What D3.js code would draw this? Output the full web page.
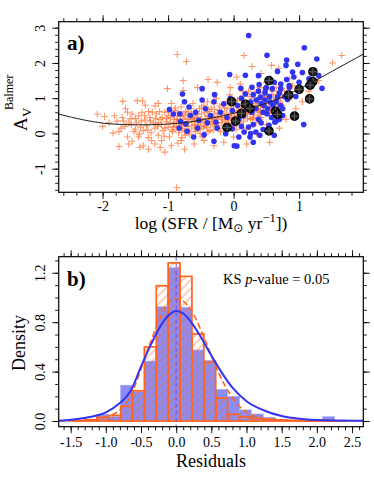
<!DOCTYPE html>
<html>
<head>
<meta charset="utf-8">
<script src="https://cdn.jsdelivr.net/npm/d3@7"></script>
<style>
  body { margin: 0; background: #fff; }
  text { font-family: "Liberation Serif", "DejaVu Serif", serif; fill: #000; }
</style>
</head>
<body>
<svg id="chart" width="374" height="481"></svg>
<script>
// ---- panel a) : A_V(Balmer) vs log SFR ----
var orangePts = [
  [-0.86,2.24],[-0.72,2.04],[-0.87,-1.54],[0.16,2.21],[1.65,2.21],[1.51,2.0],[0.58,1.93],[0.28,1.9],[0.69,1.85],
  [-0.77,1.5],[-0.39,1.53],[-0.77,1.22],[-1.01,1.27],[-1.69,0.91],[-1.47,0.93],[-1.39,0.92],[-2.08,0.55],[-1.97,0.48],
  [-1.84,0.01],[-1.75,-0.37],[-1.43,-0.39],[-1.05,-0.53],[-0.25,1.45],[0.05,1.6],[0.42,1.7],[0.85,1.55],[-0.55,1.3],
  [-1.2,0.78],[-1.3,0.62],[-1.55,0.55],[-1.65,0.7],[-1.6,0.3],[-1.72,0.15],[-1.5,0.12],[-1.62,-0.1],[-1.55,-0.22],
  [-1.38,-0.35],[-1.3,-0.12],[-1.2,-0.3],[-1.1,-0.2],[-0.95,-0.35],[-0.85,-0.28],[-0.75,-0.45],[-0.6,-0.3],[-0.45,-0.2],
  [-0.3,-0.35],[-0.15,-0.25],[0.0,-0.1],[0.2,-0.3],[0.35,0.0],[0.55,-0.25],[0.7,0.15],[0.8,0.4],[0.95,0.7],[1.05,0.9],
  [1.15,1.2],[1.3,1.5],[0.9,1.1],
  [-1.78,0.35],[-1.7,0.45],[-1.66,0.2],[-1.58,0.42],[-1.52,0.05],[-1.48,0.3],[-1.45,0.5],[-1.42,0.18],[-1.38,0.08],
  [-1.35,0.38],[-1.33,0.22],[-1.28,0.45],[-1.26,0.02],[-1.22,0.3],[-1.2,0.15],[-1.18,0.55],[-1.15,-0.05],[-1.12,0.4],
  [-1.1,0.25],[-1.08,0.08],[-1.05,0.6],[-1.03,0.33],[-1.0,0.18],[-0.98,-0.1],[-0.96,0.45],[-0.94,0.1],[-0.92,0.28],
  [-1.4,0.6],[-1.62,0.6],[-1.25,-0.2],[-1.45,-0.1],[-1.12,-0.4],[-0.9,0.65],
  [-0.88,0.2],[-0.86,0.5],[-0.84,0.02],[-0.82,0.35],[-0.8,0.75],[-0.78,0.15],[-0.76,0.42],[-0.74,-0.05],[-0.72,0.28],
  [-0.7,0.6],[-0.68,0.1],[-0.66,0.48],[-0.64,0.22],[-0.62,0.85],[-0.6,0.35],[-0.58,0.05],[-0.56,0.55],[-0.54,0.25],
  [-0.52,0.7],[-0.5,0.4],[-0.48,-0.1],[-0.46,0.15],[-0.44,0.6],[-0.42,0.3],[-0.4,0.9],[-0.38,0.48],[-0.36,0.08],
  [-0.34,0.72],[-0.32,0.35],[-0.3,0.55],[-0.28,0.2],[-0.26,1.0],[-0.24,0.45],[-0.22,0.65],[-0.2,0.05],[-0.18,0.3],
  [-0.16,0.82],[-0.14,0.5],[-0.12,0.18],[-0.1,0.7],[-0.08,0.38],[-0.06,1.1],[-0.04,0.58],[-0.02,0.25],[0.0,0.8],
  [0.02,0.45],[0.04,0.12],[0.06,0.95],[0.08,0.62],[0.1,0.3],[0.12,0.75],[0.14,1.2],[0.16,0.5],[0.18,0.88],[0.2,0.15],
  [0.22,0.65],[0.24,1.05],[0.26,0.4],[0.28,0.78],[0.3,0.55],[0.32,1.15],[0.34,0.3],[0.36,0.92],[0.38,0.68],[0.4,1.3],
  [0.42,0.45],[0.44,0.85],[0.46,1.05],[0.48,0.6],[0.5,0.25],[0.52,0.95],[0.55,0.72],[0.58,1.1],[0.6,0.5],[0.62,0.85],
  [0.65,1.3],[0.68,0.65],[0.72,1.0],[0.75,0.8],[0.78,1.2],[0.85,0.95],[0.9,1.35],
  [-0.85,0.6],[-0.8,0.25],[-0.75,0.05],[-0.7,0.4],[-0.65,0.7],[-0.6,0.15],[-0.55,0.45],[-0.5,0.2],[-0.45,0.8],
  [-0.4,0.5],[-0.35,0.25],[-0.3,0.85],[-0.25,0.3],[-0.2,0.55],[-0.15,0.15],[-0.1,0.9],[-0.05,0.45],[0.0,0.2],
  [0.05,0.65],[0.1,1.0],[0.15,0.35],[0.2,0.8],[0.25,0.55],[0.3,1.0],[0.35,0.7],[0.4,0.4],[0.45,1.15],[0.5,0.8],
  [0.55,0.5],[0.6,1.2],[0.65,0.95],[0.7,0.55],
  [-0.9,0.4],[-0.83,0.1],[-0.77,0.55],[-0.71,0.2],[-0.63,0.38],[-0.57,0.62],[-0.51,0.0],[-0.47,0.35],[-0.41,0.18],
  [-0.37,0.62],[-0.31,0.1],[-0.27,0.42],[-0.21,0.78],[-0.17,0.4],[-0.11,0.55],[-0.07,0.22],[-0.01,0.62],[0.03,0.35],
  [0.07,0.78],[0.11,0.5],[0.17,0.68],[0.21,0.42],[0.27,0.92],[0.31,0.68],[0.37,0.5],[0.41,0.78],[0.47,0.95],[0.53,0.62],
  [0.57,0.88],[0.63,0.7],[0.69,0.82],[0.23,1.2],[-0.05,1.3],[0.5,1.45],[0.1,1.4],
  [-1.0,0.5],[-0.97,0.3],[-0.93,0.05],[-0.89,0.72],[-0.87,0.32],[-0.81,0.48],[-0.79,-0.12],[-0.73,0.62],[-0.69,0.32],
  [-0.67,-0.02],[-0.61,0.5],[-0.59,0.25],[-0.53,0.12],[-0.49,0.55],[-0.43,0.42],[-0.39,0.05],[-0.33,0.48],[-0.29,0.68],
  [-0.23,0.22],[-0.19,0.62],[-0.13,0.35],[-0.09,0.08],[-0.03,0.42],[0.01,0.95],[0.05,0.28],[0.09,0.55],[0.13,0.92],
  [0.19,0.55],[0.25,0.7],[0.29,0.42],[0.33,0.85],[0.39,0.6],[0.43,1.0],[0.49,0.72],[0.55,0.9],[0.61,0.65],[0.66,1.1],
  [0.71,0.9],
  [-1.15,0.3],[-1.05,0.15],[-0.99,0.62],[-0.91,0.18],[-0.86,0.4],[-0.79,0.3],[-0.74,0.5],[-0.69,0.05],[-0.64,0.55],
  [-0.59,0.42],[-0.54,0.32],[-0.49,0.75],[-0.44,0.22],[-0.39,0.68],[-0.34,0.4],[-0.29,0.28],[-0.24,0.58],[-0.19,0.45],
  [-0.14,0.72],[-0.09,0.3],[-0.04,0.75],[0.01,0.5],[0.06,0.38],[0.11,0.65],[0.16,0.78],[0.21,0.58],[0.26,0.85],
  [0.31,0.45],[0.36,0.8],[0.41,0.6],[0.46,0.75],[0.51,1.05],[0.56,0.65],[0.61,1.0],[0.67,0.78],[0.73,0.68],
  [-1.9,0.3],[-1.82,0.5],[-1.75,0.05],[-1.68,0.35],[-1.56,0.25],[-1.5,0.42],[-1.44,-0.02],[-1.41,0.35],[-1.36,0.5],
  [-1.31,0.1],[-1.27,0.35],[-1.24,0.6],[-1.19,0.42],[-1.16,0.2],[-1.13,0.62],[-1.09,0.45],[-1.06,-0.08],[-1.02,0.42],
  [-2.0,0.2],[-1.35,0.8],[-1.15,0.85],[-0.95,0.85],[-1.6,-0.3],[-1.3,-0.45],[-0.8,-0.2]
];

var bluePts = [
  [0.23,2.78],[1.08,2.43],[0.51,2.22],[0.81,2.08],[1.27,2.11],[0.98,1.96],[0.80,1.93],[-0.06,1.67],[0.18,1.65],
  [0.38,1.64],[0.67,1.76],[0.90,1.74],[1.05,1.73],[1.30,1.64],[0.92,1.60],[0.81,1.53],[0.85,1.36],[1.13,1.36],
  [1.35,1.28],[-0.78,1.12],[-0.48,1.27],[-0.29,1.10],[0.11,1.28],[0.28,1.31],[0.39,1.39],[0.49,1.27],[0.72,1.27],
  [1.07,0.25],[0.05,-0.36],
  [-0.98,0.68],[-0.82,0.56],[-0.81,0.34],[-0.73,0.27],[-0.66,0.51],[-0.58,0.60],[-0.53,0.37],[-0.43,0.70],[-0.35,0.51],
  [-0.27,0.32],[-0.20,0.60],[-0.15,0.84],[-0.10,0.46],[-0.02,0.65],[0.06,0.79],[0.12,1.00],[0.18,1.12],[0.26,0.89],
  [0.34,0.70],[0.41,1.03],[0.46,0.79],[0.51,0.56],[0.56,0.89],[0.62,0.65],[0.67,1.03],[0.72,0.79],[0.75,0.51],
  [0.82,0.96],[0.87,1.12],[0.59,1.27],
  [-0.83,0.15],[-0.71,0.06],[-0.61,-0.10],[-0.45,-0.04],[-0.30,-0.22],[-0.12,-0.01],[-0.02,0.13],[0.08,-0.10],
  [0.16,0.04],[0.23,0.18],[0.34,0.04],[0.45,0.11],[0.54,0.23],[0.63,0.32],[0.70,0.40],
  [0.3,1.1],[0.35,0.95],[0.42,0.85],[0.48,1.15],[0.52,0.7],[0.55,1.05],[0.6,0.8],[0.65,0.9],[0.7,1.15],[0.75,0.7],
  [0.78,1.05],[0.45,0.6],[0.38,0.4],[0.28,0.6],[0.2,0.75],[0.15,0.5],[0.08,0.4],[0.0,0.3],[-0.08,0.2],[-0.25,0.15],
  [-0.4,0.3],[-0.55,0.15],[-0.68,0.75],[-0.48,0.95],[-0.3,0.9],[-0.05,1.0],[0.12,0.2],[0.3,0.25],[0.42,0.3],
  [0.58,0.45],[0.65,0.35],[0.5,1.3],[0.62,1.45],[0.85,1.3],[0.95,1.05],[1.0,1.45],[1.15,1.55],[0.72,1.4],
  [-0.92,0.55],[-0.75,0.9],[0.55,0.1],[0.4,-0.05],[0.25,-0.1],[0.62,-0.05],[0.3,-0.25],[0.48,0.95],[0.38,1.2],
  [0.01,-0.35],[0.26,0.0]
];

var blackPts = [
  [0.54,1.50],[-0.03,0.90],[0.18,0.83],[0.25,0.71],[0.12,0.57],[0.03,0.35],[-0.10,0.17],[0.54,0.07],
  [0.64,0.63],[0.67,0.54],[0.84,1.09],[0.93,0.49],[1.00,1.25],[1.21,1.75],[1.21,1.47],[1.17,1.37],[1.16,0.98]
];

// fitted relation
var fitLine = [
  [-2.67,0.55],[-2.28,0.38],[-1.87,0.27],[-1.47,0.245],[-1.06,0.26],[-0.65,0.33],[-0.3,0.45],[0,0.57],
  [0.3,0.74],[0.6,0.92],[0.9,1.17],[1.2,1.45],[1.5,1.76],[1.98,2.25]
];

var xTicksA = [-2, -1, 0, 1];
var xLabelsA = ["-2", "-1", "0", "1"];
var yTicksA = [-1, 0, 1, 2, 3];
var yLabelsA = ["-1", "0", "1", "2", "3"];

// ---- panel b) : residual histograms ----
var binEdges = [-1.635,-1.466,-1.297,-1.128,-0.959,-0.790,-0.621,-0.452,-0.283,-0.114,0.055,0.224,0.393,
  0.562,0.731,0.900,1.069,1.238,1.407,1.576,1.745,1.914,2.083,2.252,2.421,2.590];
var blueDensity = [0.003,0.005,0.01,0.055,0.035,0.29,0.24,0.485,0.925,1.24,0.92,0.575,0.49,0.257,0.2,0.09,
  0.057,0.03,0.012,0.008,0.005,0.005,0.035,0.005,0.003];
var orangeDensity = [0,0.004,0.01,0.03,0.045,0.12,0.245,0.6,1.095,1.28,1.17,0.705,0.475,0.185,0.055,0.035,
  0.02,0.015,0.008,0.005,0.003,0.003,0.003,0.002,0];

var blueFit = [
  [-1.67,0.003],[-1.5,0.01],[-1.25,0.03],[-1.0,0.07],[-0.8,0.146],[-0.65,0.24],[-0.5,0.44],[-0.35,0.63],
  [-0.2,0.79],[-0.1,0.86],[0,0.89],[0.1,0.87],[0.2,0.81],[0.35,0.68],[0.5,0.53],[0.65,0.39],[0.8,0.27],
  [1.0,0.16],[1.25,0.085],[1.5,0.04],[1.75,0.018],[2.0,0.008],[2.3,0.004],[2.66,0.002]
];
var orangeFit = [
  [-1.67,0.0],[-1.3,0.005],[-1.1,0.015],[-0.95,0.04],[-0.8,0.09],[-0.65,0.2],[-0.5,0.42],[-0.35,0.66],
  [-0.2,0.87],[-0.1,0.96],[0,0.99],[0.1,0.97],[0.25,0.86],[0.4,0.67],[0.55,0.46],[0.7,0.28],[0.85,0.15],
  [1.0,0.07],[1.2,0.025],[1.5,0.005],[2.0,0.001],[2.66,0.0]
];

var xTicksB = [-1.5,-1.0,-0.5,0,0.5,1.0,1.5,2.0,2.5];
var xLabelsB = ["-1.5","-1.0","-0.5","0.0","0.5","1.0","1.5","2.0","2.5"];
var yTicksB = [0, 0.4, 0.8, 1.2];
var yLabelsB = ["0.0","0.4","0.8","1.2"];

var orange = "#ff6420", blue = "#3333f2";

var svg = d3.select("#chart");
var defs = svg.append("defs");

defs.append("pattern")
  .attr("id", "hatch")
  .attr("patternUnits", "userSpaceOnUse")
  .attr("width", 6).attr("height", 6)
  .attr("patternTransform", "rotate(45)")
  .append("line")
  .attr("x1", 3).attr("y1", -1).attr("x2", 3).attr("y2", 7)
  .attr("stroke", orange).attr("stroke-width", 0.65);

// box with ticks on all four sides, labels on bottom and left
var drawFrame = function(g, x, y, xMaj, xMin, xLab, yMaj, yMin, yLab, xLabY) {
  var x0 = x.range()[0], x1 = x.range()[1], y0 = y.range()[0], y1 = y.range()[1];

  var sides = [
    [d3.axisBottom, x, "translate(0," + y0 + ")", xMaj, xMin],
    [d3.axisTop, x, "translate(0," + y1 + ")", xMaj, xMin],
    [d3.axisLeft, y, "translate(" + x0 + ",0)", yMaj, yMin],
    [d3.axisRight, y, "translate(" + x1 + ",0)", yMaj, yMin]
  ];
  sides.forEach(function(s, i) {
    var gMin = g.append("g").attr("transform", s[2])
      .call(s[0](s[1]).tickValues(s[4]).tickSize(3.5).tickFormat(""));
    var gMaj = g.append("g").attr("transform", s[2])
      .call(s[0](s[1]).tickValues(s[3]).tickSize(6.5).tickFormat(function(d, j) {
        if (i == 0) return xLab[j];
        if (i == 2) return yLab[j];
        return "";
      }));
    [gMin, gMaj].forEach(function(a) {
      a.attr("font-family", null).attr("font-size", null);
      a.select(".domain").remove();
      a.selectAll("line").attr("stroke", "#000").attr("stroke-width", 0.9);
    });
    if (i == 0) {
      gMaj.selectAll("text").attr("dy", null).attr("y", xLabY)
        .style("font-size", "14px");
    }
    if (i == 2) {
      gMaj.selectAll("text").attr("x", null).attr("dy", null)
        .attr("text-anchor", "middle")
        .attr("transform", "translate(-13.5,0) rotate(-90)")
        .style("font-size", "14px");
    }
  });

  g.append("rect")
    .attr("x", x0).attr("y", y1)
    .attr("width", x1 - x0).attr("height", y0 - y1)
    .attr("fill", "none").attr("stroke", "#000").attr("stroke-width", 1.2);
};

var minorRange = function(lo, hi, step) {
  return d3.range(Math.ceil(lo / step - 1e-9), Math.floor(hi / step + 1e-9) + 1)
    .map(function(i) { return +(i * step).toFixed(3); });
};

/* PANEL A */
var xA = d3.scaleLinear().domain([-2.67, 1.98]).range([58.7, 363.3]);
var yA = d3.scaleLinear().domain([-1.67, 3.17]).range([192.3, 21.7]);

defs.append("clipPath").attr("id", "clipA").append("rect")
  .attr("x", 58.7).attr("y", 21.7).attr("width", 304.6).attr("height", 170.6);

var gA = svg.append("g");
var plotA = gA.append("g").attr("clip-path", "url(#clipA)");

var cs = 3.4;
plotA.append("g").selectAll("path")
  .data(orangePts)
  .enter().append("path")
  .attr("d", function(d) {
    var cx = xA(d[0]), cy = yA(d[1]);
    return "M" + (cx - cs) + "," + cy + "H" + (cx + cs) + "M" + cx + "," + (cy - cs) + "V" + (cy + cs);
  })
  .attr("stroke", "#ff6a26").attr("stroke-opacity", 0.7).attr("stroke-width", 1.1)
  .attr("fill", "none");

plotA.append("g").selectAll("circle")
  .data(bluePts)
  .enter().append("circle")
  .attr("cx", function(d) { return xA(d[0]); })
  .attr("cy", function(d) { return yA(d[1]); })
  .attr("r", 2.8)
  .attr("fill", blue);

plotA.append("path")
  .datum(fitLine)
  .attr("d", d3.line().x(function(d) { return xA(d[0]); }).y(function(d) { return yA(d[1]); }).curve(d3.curveMonotoneX))
  .attr("fill", "none").attr("stroke", "#222").attr("stroke-width", 1);

var bk = plotA.append("g").selectAll("g")
  .data(blackPts)
  .enter().append("g")
  .attr("transform", function(d) { return "translate(" + xA(d[0]) + "," + yA(d[1]) + ")"; });
bk.append("circle").attr("r", 4.1).attr("fill", "#1e1e1e").attr("stroke", "#000").attr("stroke-width", 1.4);
bk.append("path").attr("d", "M-4.1,0H4.1M0,-4.1V4.1").attr("stroke", "#5a5a5a").attr("stroke-width", 1);

drawFrame(gA, xA, yA, xTicksA, minorRange(-2.67, 1.98, 0.2), xLabelsA,
  yTicksA, minorRange(-1.67, 3.17, 0.2), yLabelsA, 18.5);

gA.append("text").attr("x", 67).attr("y", 50)
  .style("font-size", "21px").style("font-weight", "bold").text("a)");

var xt = gA.append("text").attr("x", 211).attr("y", 228.5).attr("text-anchor", "middle")
  .style("font-size", "17.5px");
xt.append("tspan").text("log (SFR / [M");
xt.append("tspan").attr("dy", 3).style("font-size", "12px").style("font-family", "DejaVu Sans").text("\u2299");
xt.append("tspan").attr("dy", -3).text(" yr");
xt.append("tspan").attr("dy", -7).style("font-size", "12.5px").text("\u22121");
xt.append("tspan").attr("dy", 7).text("])");

var yt = gA.append("g").attr("transform", "translate(27,131) rotate(-90)");
yt.append("text").attr("x", 0).attr("y", 0).style("font-size", "19px").text("A");
yt.append("text").attr("x", 14).attr("y", 3.5).style("font-size", "13px").text("V");
yt.append("text").attr("x", 21).attr("y", -14).style("font-size", "12px").text("Balmer");

/* PANEL B */
var xB = d3.scaleLinear().domain([-1.67, 2.66]).range([58.7, 363.3]);
var yB = d3.scaleLinear().domain([-0.046, 1.33]).range([426.7, 256.7]);

defs.append("clipPath").attr("id", "clipB").append("rect")
  .attr("x", 58.7).attr("y", 256.7).attr("width", 304.6).attr("height", 170);

var gB = svg.append("g");
var plotB = gB.append("g").attr("clip-path", "url(#clipB)");

var bins = blueDensity.map(function(v, i) {
  return { x0: binEdges[i], x1: binEdges[i + 1], b: v, o: orangeDensity[i] };
});

plotB.append("g").selectAll("rect")
  .data(bins)
  .enter().append("rect")
  .attr("x", function(d) { return xB(d.x0); })
  .attr("width", function(d) { return xB(d.x1) - xB(d.x0); })
  .attr("y", function(d) { return yB(d.b); })
  .attr("height", function(d) { return yB(0) - yB(d.b); })
  .attr("fill", "#8c8cf2").attr("stroke", "#aaaaf6").attr("stroke-width", 0.6);

plotB.append("g").selectAll("rect")
  .data(bins)
  .enter().append("rect")
  .attr("x", function(d) { return xB(d.x0); })
  .attr("width", function(d) { return xB(d.x1) - xB(d.x0); })
  .attr("y", function(d) { return yB(d.o); })
  .attr("height", function(d) { return yB(0) - yB(d.o); })
  .attr("fill", "url(#hatch)").attr("stroke", orange).attr("stroke-width", 1.7);

var lineB = d3.line().x(function(d) { return xB(d[0]); }).y(function(d) { return yB(d[1]); }).curve(d3.curveMonotoneX);

plotB.append("path").datum(orangeFit).attr("d", lineB)
  .attr("fill", "none").attr("stroke", orange).attr("stroke-width", 1.6).attr("stroke-dasharray", "6,3");

plotB.append("path").datum(blueFit).attr("d", lineB)
  .attr("fill", "none").attr("stroke", blue).attr("stroke-width", 2);

plotB.append("line")
  .attr("x1", xB(0)).attr("x2", xB(0)).attr("y1", 256.7).attr("y2", 426.7)
  .attr("stroke", "#6a4fdc").attr("stroke-width", 1).attr("stroke-dasharray", "4,3");

drawFrame(gB, xB, yB, xTicksB, minorRange(-1.67, 2.66, 0.1), xLabelsB,
  yTicksB, minorRange(-0.046, 1.33, 0.1), yLabelsB, 20.3);

gB.append("text").attr("x", 67).attr("y", 285.5)
  .style("font-size", "21px").style("font-weight", "bold").text("b)");

var ks = gB.append("text").attr("x", 223).attr("y", 283.5).style("font-size", "14.5px");
ks.append("tspan").text("KS ");
ks.append("tspan").style("font-style", "italic").text("p");
ks.append("tspan").text("-value = 0.05");

gB.append("text").attr("x", 211).attr("y", 466.5).attr("text-anchor", "middle")
  .style("font-size", "18px").text("Residuals");

gB.append("text").attr("transform", "translate(25,343) rotate(-90)").attr("text-anchor", "middle")
  .style("font-size", "18px").text("Density");
</script>
</body>
</html>
